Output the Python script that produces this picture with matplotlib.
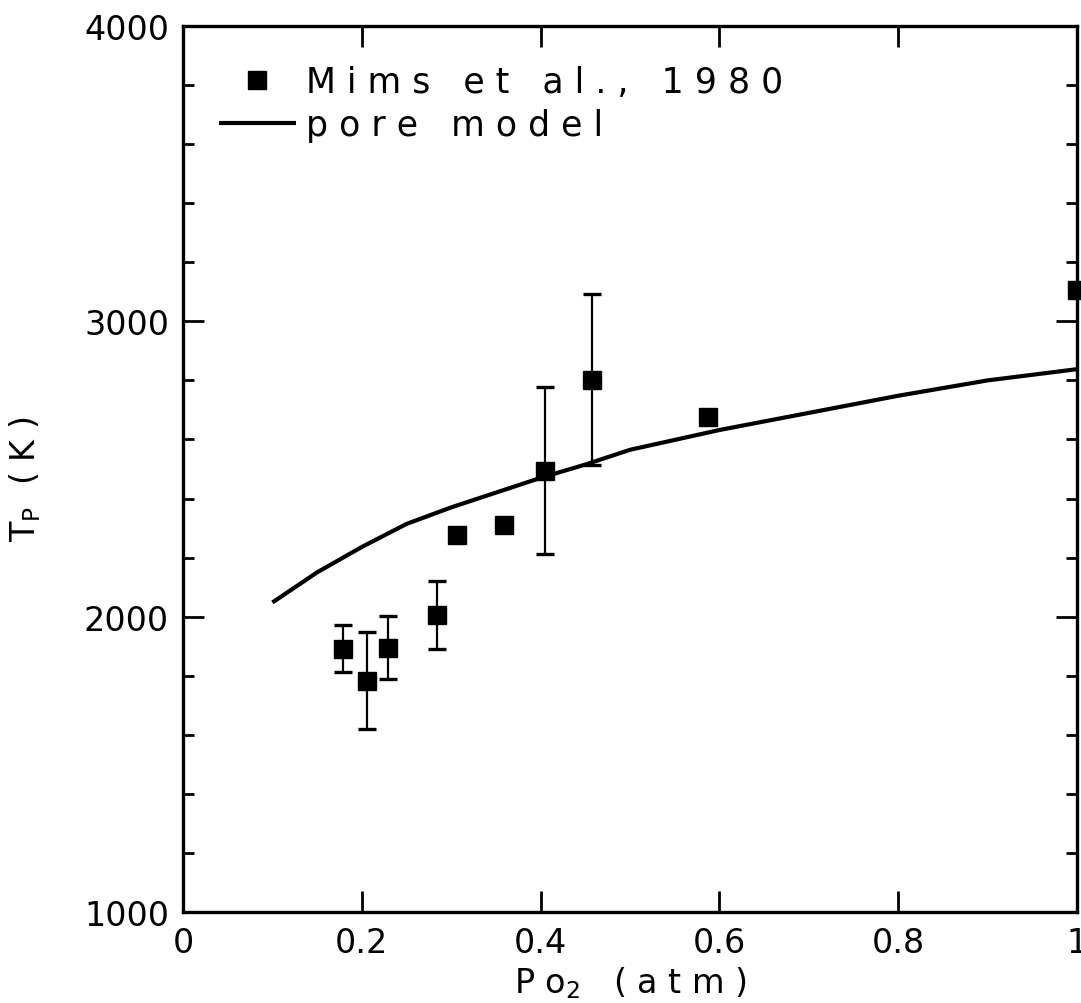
import numpy as np
import matplotlib.pyplot as plt
from matplotlib.ticker import MultipleLocator

# Mims et al., 1980 measurements
po2 = [0.179, 0.206, 0.229, 0.284, 0.307, 0.359, 0.405, 0.457, 0.587, 1.0]
tp = [1890, 1783, 1893, 2007, 2276, 2310, 2492, 2801, 2676, 3105]
err_hi = [1973, 1947, 2001, 2122, np.nan, np.nan, 2776, 3092, np.nan, np.nan]
err_lo = [1811, 1619, 1789, 1890, np.nan, np.nan, 2212, 2513, np.nan, np.nan]

# pore model curve
model_po2 = [0.10, 0.15, 0.20, 0.25, 0.30, 0.35, 0.40, 0.45, 0.50, 0.60, 0.70, 0.80, 0.90, 1.00]
model_tp = [2048, 2150, 2236, 2314, 2370, 2420, 2470, 2515, 2565, 2632, 2690, 2748, 2800, 2838]

xtick_vals = [0, 0.2, 0.4, 0.6, 0.8, 1.0]
xtick_labels = ["0", "0.2", "0.4", "0.6", "0.8", "1"]
ytick_vals = [1000, 2000, 3000, 4000]


def main():
    plt.rcParams["font.family"] = ["DejaVu Sans"]
    plt.rcParams["mathtext.fontset"] = "dejavusans"

    fig = plt.figure(figsize=(10.81, 10.04), dpi=100)
    ax = fig.add_axes([183 / 1081, 91 / 1004, 894 / 1081, 886 / 1004])

    line, = ax.plot(model_po2, model_tp, color="black", lw=3.0, solid_capstyle="butt")

    x = np.array(po2)
    y = np.array(tp)
    hi = np.array(err_hi)
    lo = np.array(err_lo)
    has_err = ~np.isnan(hi)
    ax.errorbar(x[has_err], y[has_err],
                yerr=[y[has_err] - lo[has_err], hi[has_err] - y[has_err]],
                fmt="none", ecolor="black", elinewidth=1.6, capsize=6.5, capthick=2.4)
    pts, = ax.plot(x, y, "s", color="black", markersize=12.5, clip_on=False, zorder=5)

    ax.set_xlim(0, 1)
    ax.set_ylim(1000, 4000)
    ax.set_xticks(xtick_vals)
    ax.set_xticklabels(xtick_labels)
    ax.set_yticks(ytick_vals)
    ax.yaxis.set_minor_locator(MultipleLocator(200))

    ax.tick_params(which="both", direction="in", top=True, right=True,
                   labelsize=24, width=2.0, color="black")
    ax.tick_params(which="major", length=15, pad=10)
    ax.tick_params(which="minor", length=8)
    for s in ax.spines.values():
        s.set_linewidth(2.4)

    ax.set_xlabel("P o$_2$   ( a t m )", fontsize=24)
    ax.xaxis.set_label_coords(0.5, -0.059)
    ax.set_ylabel(r"T$_\mathrm{P}$  ( K )", fontsize=24)
    ax.yaxis.set_label_coords(-0.157, 0.49)

    ax.legend([pts, line], ["M i m s   e t   a l . ,   1 9 8 0", "p o r e   m o d e l"],
              loc="upper left", bbox_to_anchor=(0.025, 0.972), frameon=False,
              fontsize=25, handlelength=2.2, handletextpad=0.3, labelspacing=0.27,
              borderaxespad=0, markerscale=1.0)

    fig.savefig("out.png", dpi=100)


if __name__ == "__main__":
    main()
